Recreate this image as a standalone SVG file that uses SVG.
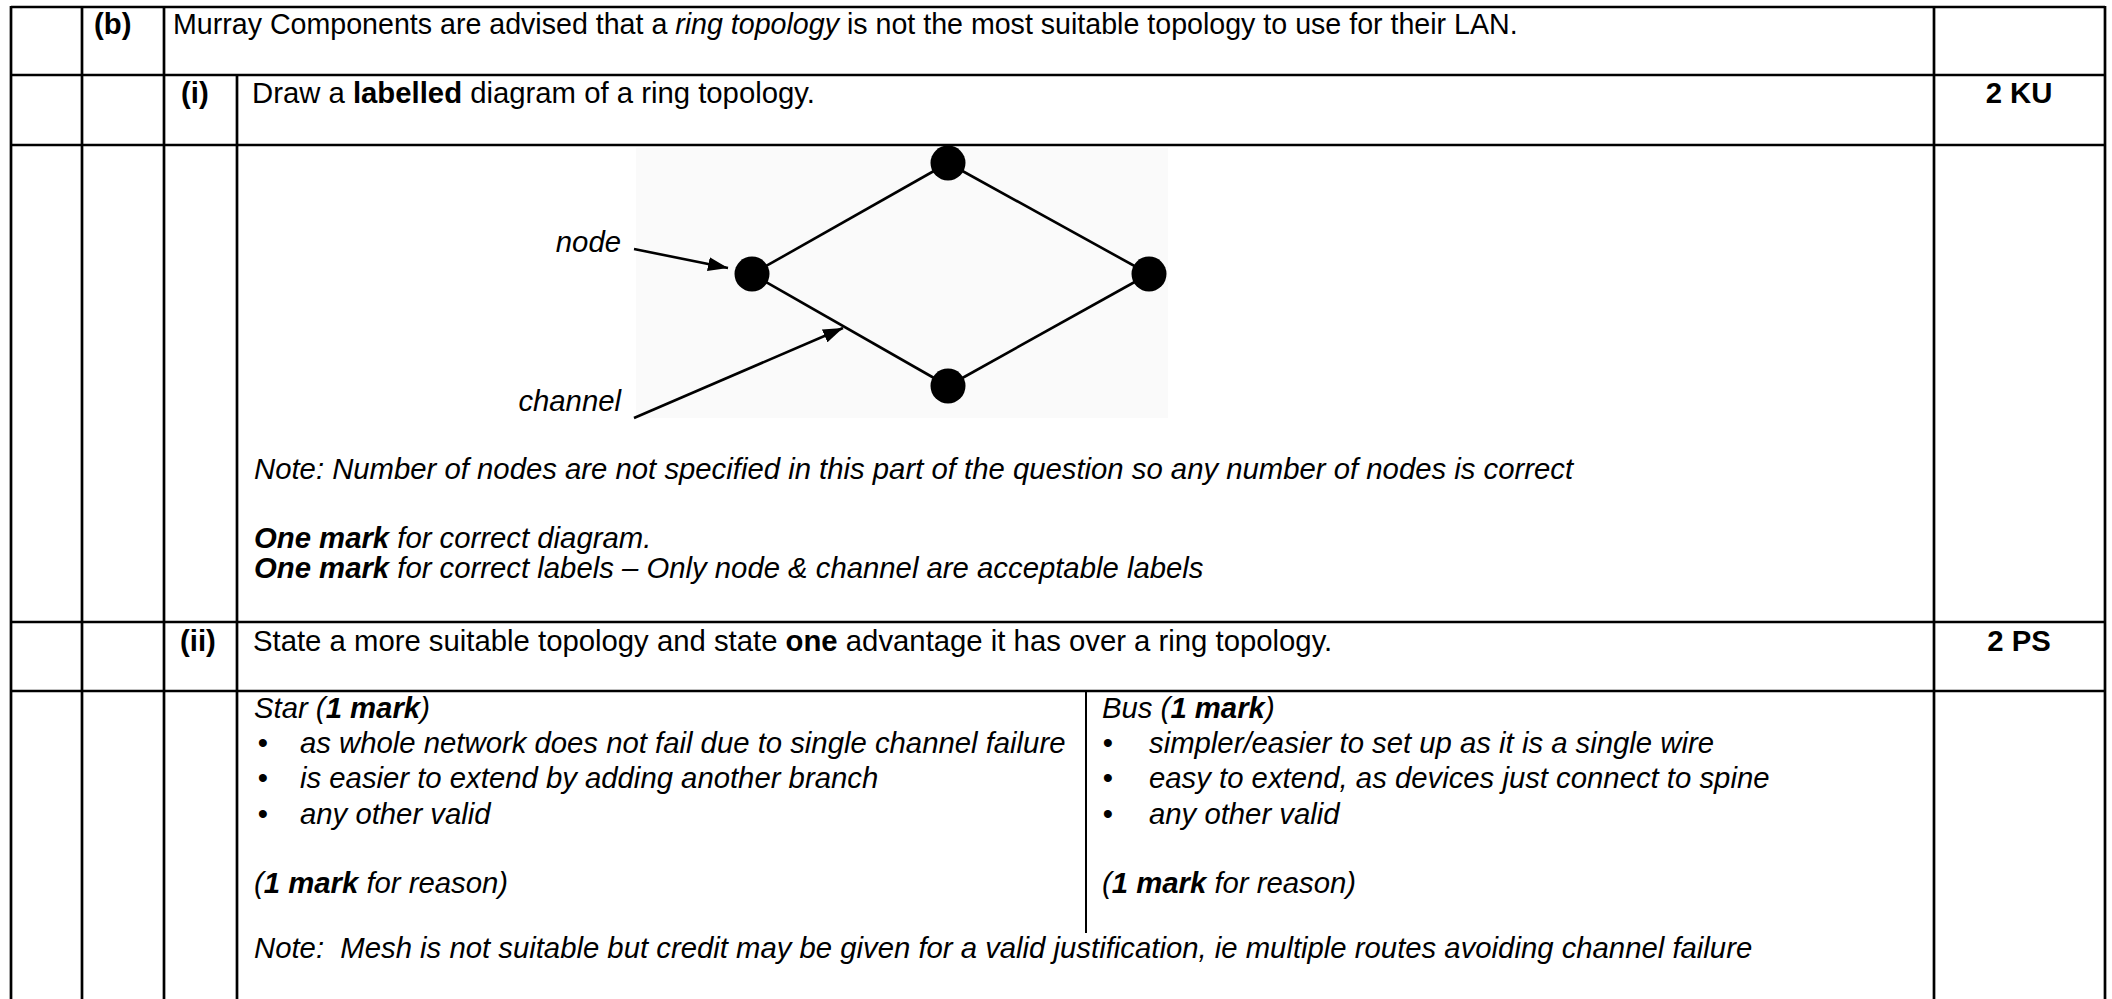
<svg xmlns="http://www.w3.org/2000/svg" width="2112" height="999" viewBox="0 0 2112 999">
<style>
.t{font-family:"Liberation Sans",Arial,sans-serif;font-size:29.3px;fill:#000}
.b{font-weight:bold}
.i{font-style:italic}
.pre{white-space:pre}
.sm{font-size:28.6px}
.grid{stroke:#000;stroke-width:2.7;fill:none}
.thin{stroke:#000;stroke-width:2;fill:none}
.edge{stroke:#000;stroke-width:2.6;fill:none}
.nd{fill:#000}
</style>
<defs>
<marker id="arr" markerUnits="userSpaceOnUse" markerWidth="20" markerHeight="14" refX="20" refY="7" orient="auto">
<path d="M0,0 L20,7 L0,14 z" fill="#000"/>
</marker>
</defs>
<rect width="2112" height="999" fill="#fff"/>
<g id="table">
<line class="grid" x1="11" y1="7" x2="2105" y2="7"/>
<line class="grid" x1="11" y1="75" x2="2105" y2="75"/>
<line class="grid" x1="11" y1="145" x2="2105" y2="145"/>
<line class="grid" x1="11" y1="622" x2="2105" y2="622"/>
<line class="grid" x1="11" y1="691" x2="2105" y2="691"/>
<line class="grid" x1="11" y1="6" x2="11" y2="999"/>
<line class="grid" x1="82" y1="6" x2="82" y2="999"/>
<line class="grid" x1="164" y1="6" x2="164" y2="999"/>
<line class="grid" x1="237" y1="75" x2="237" y2="999"/>
<line class="grid" x1="1934" y1="6" x2="1934" y2="999"/>
<line class="grid" x1="2105" y1="6" x2="2105" y2="999"/>
<line class="thin" x1="1086" y1="691" x2="1086" y2="933"/>
</g>
<g id="texts" class="t">
<text class="b" x="94" y="34">(b)</text>
<text class="sm" x="173" y="34">Murray Components are advised that a <tspan class="i">ring topology</tspan> is not the most suitable topology to use for their LAN.</text>
<text class="b" x="181" y="103">(i)</text>
<text x="252" y="103">Draw a <tspan class="b">labelled</tspan> diagram of a ring topology.</text>
<text class="b" x="2019" y="103" text-anchor="middle">2 KU</text>
<text class="i" x="254" y="479">Note: Number of nodes are not specified in this part of the question so any number of nodes is correct</text>
<text class="i" x="254" y="548"><tspan class="b">One mark</tspan> for correct diagram.</text>
<text class="i" x="254" y="578"><tspan class="b">One mark</tspan> for correct labels – Only node &amp; channel are acceptable labels</text>
<text class="b" x="180" y="651">(ii)</text>
<text x="253" y="651">State a more suitable topology and state <tspan class="b">one</tspan> advantage it has over a ring topology.</text>
<text class="b" x="2019" y="651" text-anchor="middle">2 PS</text>
<text class="i" x="254" y="718">Star (<tspan class="b">1 mark</tspan>)</text>
<text x="263" y="753" text-anchor="middle">•</text>
<text class="i" x="300" y="753">as whole network does not fail due to single channel failure</text>
<text x="263" y="788" text-anchor="middle">•</text>
<text class="i" x="300" y="788">is easier to extend by adding another branch</text>
<text x="263" y="824" text-anchor="middle">•</text>
<text class="i" x="300" y="824">any other valid</text>
<text class="i" x="254" y="893">(<tspan class="b">1 mark</tspan> for reason)</text>
<text class="i" x="1102" y="718">Bus (<tspan class="b">1 mark</tspan>)</text>
<text x="1108" y="753" text-anchor="middle">•</text>
<text class="i" x="1149" y="753">simpler/easier to set up as it is a single wire</text>
<text x="1108" y="788" text-anchor="middle">•</text>
<text class="i" x="1149" y="788">easy to extend, as devices just connect to spine</text>
<text x="1108" y="824" text-anchor="middle">•</text>
<text class="i" x="1149" y="824">any other valid</text>
<text class="i" x="1102" y="893">(<tspan class="b">1 mark</tspan> for reason)</text>
<text class="i pre" x="254" y="958">Note:  Mesh is not suitable but credit may be given for a valid justification, ie multiple routes avoiding channel failure</text>
</g>
<g id="ring-diagram">
<rect x="636" y="148" width="532" height="270" fill="#fafafa"/>
<g id="connectors">
<line class="edge" x1="752" y1="274" x2="948" y2="163"/>
<line class="edge" x1="948" y1="163" x2="1149" y2="274"/>
<line class="edge" x1="1149" y1="274" x2="948" y2="386"/>
<line class="edge" x1="948" y1="386" x2="752" y2="274"/>
<line class="edge" x1="634" y1="249" x2="728" y2="268" marker-end="url(#arr)"/>
<line class="edge" x1="634" y1="418" x2="843" y2="328" marker-end="url(#arr)"/>
</g>
<g id="node-top"><circle class="nd" cx="948" cy="163" r="17.5"/></g>
<g id="node-left"><circle class="nd" cx="752" cy="274" r="17.5"/></g>
<g id="node-right"><circle class="nd" cx="1149" cy="274" r="17.5"/></g>
<g id="node-bottom"><circle class="nd" cx="948" cy="386" r="17.5"/></g>
<text class="t i" x="621" y="252" text-anchor="end">node</text>
<text class="t i" x="621" y="411" text-anchor="end">channel</text>
</g>
</svg>
